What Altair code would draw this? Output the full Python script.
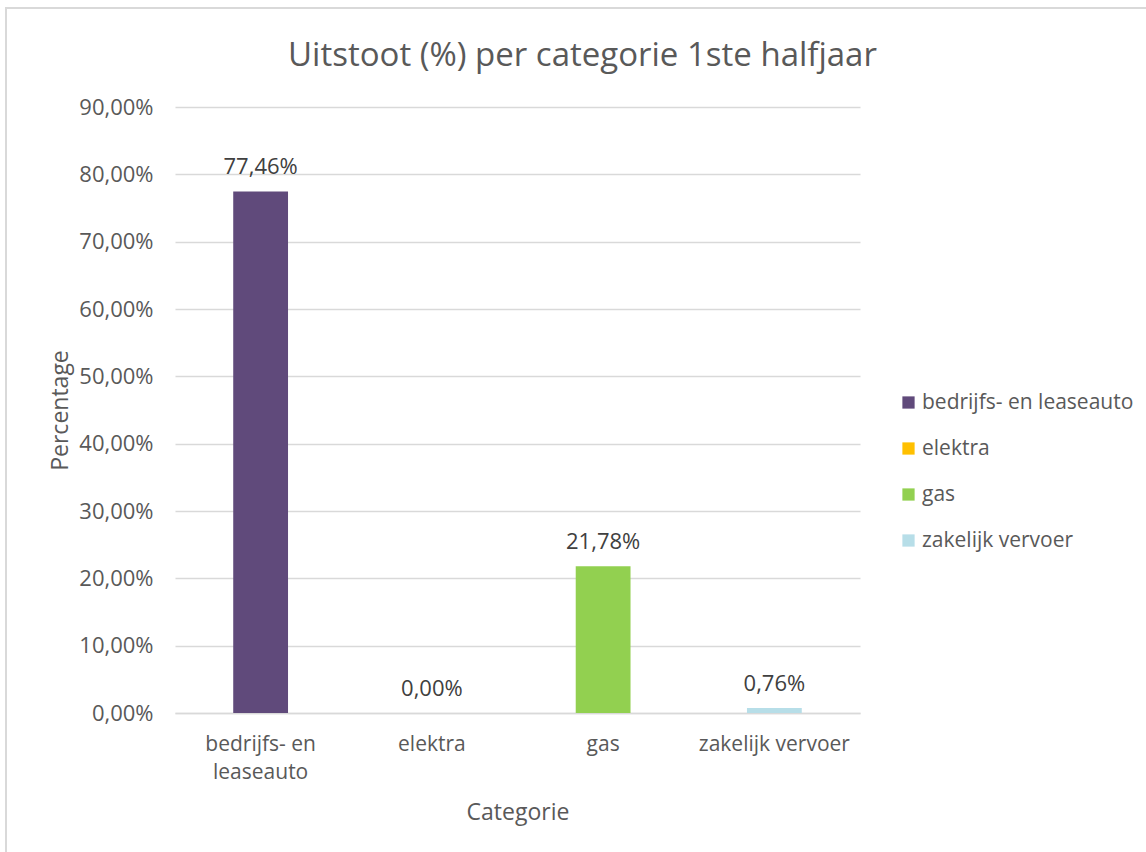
import altair as alt
import pandas as pd

categories = ["bedrijfs- en leaseauto", "elektra", "gas", "zakelijk vervoer"]
values = [77.46, 0.00, 21.78, 0.76]
colors = ["#604A7B", "#FFC000", "#92D050", "#B7DEE8"]
y_ticks = [0, 10, 20, 30, 40, 50, 60, 70, 80, 90]

df = pd.DataFrame({
    "Categorie": categories,
    "Percentage": values,
    "label": [f"{v:.2f}".replace(".", ",") + "%" for v in values],
})

FONT = "Open Sans"
TXT = "#595959"

x_enc = alt.X(
    "Categorie:N",
    sort=categories,
    scale=alt.Scale(paddingInner=0.68, paddingOuter=0.34),
    axis=alt.Axis(
        title="Categorie",
        labelAngle=0,
        labelFontSize=21,
        labelColor=TXT,
        labelFont=FONT,
        labelPadding=20,
        labelLineHeight=28,
        labelLimit=300,
        labelExpr="datum.label == 'bedrijfs- en leaseauto' ? ['bedrijfs- en', 'leaseauto'] : datum.label",
        ticks=False,
        domainColor="#D9D9D9",
        domainWidth=1.5,
        titleFontSize=23,
        titleFont=FONT,
        titleColor=TXT,
        titleFontWeight="normal",
        titleY=99,
        titleBaseline="middle",
    ),
)
y_enc = alt.Y(
    "Percentage:Q",
    scale=alt.Scale(domain=[0, 90], nice=False),
    axis=alt.Axis(
        title="Percentage",
        values=y_ticks,
        labelExpr="replace(format(datum.value, '.2f'), '.', ',') + '%'",
        labelFontSize=22,
        labelColor=TXT,
        labelFont=FONT,
        labelPadding=22,
        ticks=False,
        domain=False,
        grid=True,
        gridColor="#D9D9D9",
        gridWidth=1.3,
        titleFontSize=23,
        titleFont=FONT,
        titleColor=TXT,
        titleFontWeight="normal",
        titleX=-115,
        titleY=303,
        titleBaseline="middle",
        titleAlign="center",
    ),
)

bars = alt.Chart(df).mark_bar().encode(
    x=x_enc,
    y=y_enc,
    color=alt.Color(
        "Categorie:N",
        sort=categories,
        scale=alt.Scale(domain=categories, range=colors),
        legend=alt.Legend(
            title=None,
            orient="none",
            legendX=723,
            legendY=285,
            symbolType="square",
            symbolSize=150,
            symbolStrokeWidth=0,
            labelFontSize=21,
            labelFont=FONT,
            labelColor=TXT,
            labelLimit=300,
            rowPadding=24,
            labelOffset=3,
        ),
    ),
)

text = alt.Chart(df).mark_text(
    baseline="bottom", dy=-12, fontSize=22, font=FONT, color="#404040"
).encode(
    x=alt.X("Categorie:N", sort=categories),
    y="Percentage:Q",
    text="label:N",
)

frame = alt.Chart(df).mark_rect(
    fill=None, stroke="#D9D9D9", strokeWidth=1.5, clip=False
).encode(
    x=alt.value(-169), x2=alt.value(1146 - 175 + 10),
    y=alt.value(-99), y2=alt.value(852 - 107 + 10),
)

chart = alt.layer(frame, bars, text).properties(
    width=685,
    height=606,
    title=alt.TitleParams(
        "Uitstoot (%) per categorie 1ste halfjaar",
        fontSize=33,
        font=FONT,
        color=TXT,
        fontWeight="normal",
        anchor="middle",
        dx=65,
        offset=-66,
    ),
    autosize=alt.AutoSizeParams(type="none"),
    padding={"left": 175, "top": 107, "right": 286, "bottom": 139},
    background="white",
).configure_view(stroke=None)

chart.save("out.html", embed_options={"renderer": "svg", "actions": False})
